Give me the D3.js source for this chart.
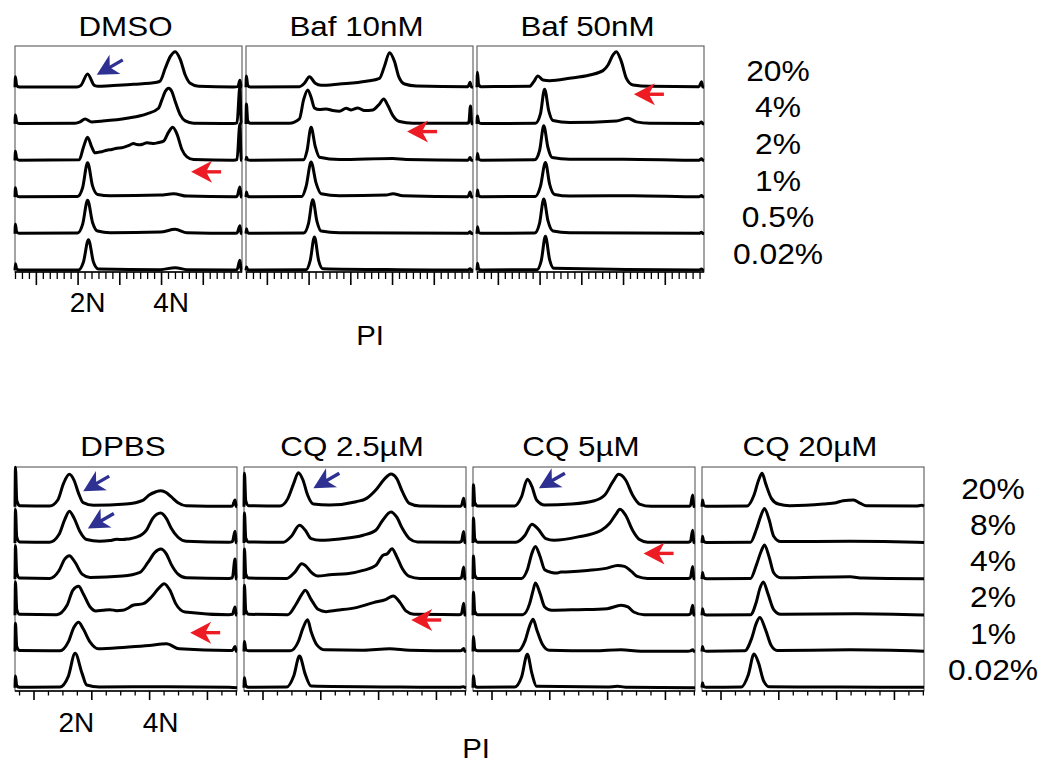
<!DOCTYPE html>
<html lang="en">
<head>
<meta charset="UTF-8">
<title>PI cell cycle histograms</title>
<script src="https://d3js.org/d3.v7.min.js"></script>
<style>
  body { margin: 0; background: #fff; }
  svg { display: block; font-family: "Liberation Sans", Arial, sans-serif; }
</style>
</head>
<body>
<svg width="1051" height="765"></svg>
<script>
// ---- data: each curve is a list of [PI, count] pairs, rows from top (highest dose) to bottom
const topPanels = ["DMSO", "Baf 10nM", "Baf 50nM"];
const topLevels = ["20%", "4%", "2%", "1%", "0.5%", "0.02%"];
const bottomPanels = ["DPBS", "CQ 2.5µM", "CQ 5µM", "CQ 20µM"];
const bottomLevels = ["20%", "8%", "4%", "2%", "1%", "0.02%"];

const topMajorTicks = [25, 75, 125, 175, 225];
const bottomMajorTicks = [16, 66, 116, 166];
const topPloidy = [["2N", 87], ["4N", 187]];
const bottomPloidy = [["2N", 53], ["4N", 126]];

const dmso = [
  [[0,0],[0.5,32],[2,5],[5,1],[74,1],[79,6],[87,40],[95,6],[100,3],[114,5],[142,9],[170,15],[174,19],[180,57],[186,92],[192,107],[198,84],[204,37],[210,12],[220,3],[262,1],[267,2],[269.5,21],[271,1],[272,0]],
  [[0,0],[0.5,27],[2,5],[5,1],[72,2],[78,6],[84,15],[92,6],[102,8],[134,17],[158,30],[172,47],[176,72],[180,97],[184,107],[188,97],[192,67],[198,27],[204,9],[214,2],[262,1],[266,3],[269.5,112],[271,1],[272,0]],
  [[0,0],[0.5,28],[2,5],[5,1],[77,2],[82,40],[87,70],[92,40],[96,23],[100,25],[104,26],[110,31],[116,33],[122,37],[128,38],[134,43],[138,47],[142,51],[146,48],[150,47],[154,50],[158,53],[162,52],[166,51],[172,54],[178,58],[184,85],[189,100],[194,80],[200,33],[206,11],[214,3],[262,1],[266,3],[269.5,110],[271,1],[272,0]],
  [[0,0],[0.5,28],[2,5],[5,1],[75,2],[81,28],[87,103],[93,33],[99,8],[114,4],[174,6],[190,10],[206,3],[262,1],[266,2],[269.5,30],[271,1],[272,0]],
  [[0,0],[0.5,28],[2,5],[5,1],[75,2],[81,28],[87,100],[93,33],[99,8],[114,3],[174,5],[192,13],[206,3],[262,1],[266,2],[269.5,24],[271,1],[272,0]],
  [[0,0],[0.5,20],[2,4],[5,1],[76,1],[82,25],[88,92],[94,25],[100,4],[174,2],[192,8],[206,2],[262,1],[266,2],[269.5,30],[271,1],[272,0]]
];
const baf10 = [
  [[0,0],[0.5,34],[2,6],[5,1],[64,2],[70,12],[76,32],[83,12],[90,6],[112,10],[144,18],[160,27],[166,64],[172,104],[178,77],[183,32],[190,10],[204,4],[266,2],[268.5,15],[270,1],[272,0]],
  [[0,0],[0.5,60],[2,10],[5,2],[52,2],[64,15],[69,72],[74,102],[78,80],[82,48],[88,43],[96,45],[104,40],[112,38],[120,47],[126,42],[134,48],[142,40],[152,42],[160,60],[165,75],[170,55],[176,25],[184,7],[200,2],[264,2],[267,4],[269,54],[270.5,1],[272,0]],
  [[0,0],[0.5,10],[2,2],[5,1],[69,2],[73,28],[78,100],[83,42],[88,10],[112,3],[176,6],[192,3],[266,1],[268.5,9],[270,1],[272,0]],
  [[0,0],[0.5,15],[2,3],[5,1],[67,2],[72,32],[78,105],[84,42],[90,10],[112,4],[168,6],[176,10],[188,4],[266,1],[268.5,15],[270,1],[272,0]],
  [[0,0],[0.5,15],[2,3],[5,1],[69,2],[75,32],[80,102],[85,37],[90,8],[112,3],[266,1],[268.5,6],[270,1],[272,0]],
  [[0,0],[0.5,10],[2,2],[5,1],[72,2],[77,30],[82,100],[87,30],[92,5],[184,2],[266,1],[268.5,5],[270,1],[272,0]]
];
const baf50 = [
  [[0,0],[0.5,45],[2,8],[5,2],[63,3],[68,17],[73,34],[79,22],[87,20],[111,27],[135,37],[151,50],[157,67],[163,97],[167,107],[173,77],[179,27],[187,7],[207,3],[266,2],[269,17],[270.5,1],[272,0]],
  [[0,0],[0.5,24],[2,5],[5,1],[70,2],[76,30],[81,104],[86,39],[91,10],[111,4],[167,9],[181,17],[191,6],[207,2],[266,1],[269,6],[270.5,1],[272,0]],
  [[0,0],[0.5,21],[2,4],[5,1],[69,2],[75,30],[80,104],[85,39],[90,9],[111,4],[176,4],[266,1],[269,5],[270.5,1],[272,0]],
  [[0,0],[0.5,21],[2,4],[5,1],[70,2],[76,32],[82,104],[87,39],[93,8],[111,3],[187,4],[266,1],[269,5],[270.5,1],[272,0]],
  [[0,0],[0.5,21],[2,4],[5,1],[69,2],[75,32],[80,104],[85,39],[91,8],[111,3],[266,1],[269,4],[270.5,1],[272,0]],
  [[0,0],[0.5,21],[2,4],[5,1],[72,2],[77,29],[82,102],[87,32],[92,6],[266,1],[269,4],[270.5,1],[272,0]]
];
const dpbs = [
  [[0,0],[0.4,118],[1.5,20],[4,3],[30,2],[37,20],[42,70],[47,97],[51,80],[55,40],[59,12],[68,4],[96,8],[111,20],[116,35],[122,45],[126,48],[131,42],[135,30],[141,12],[148,3],[185,1],[188,2],[190.3,20],[191.3,1],[192,0]],
  [[0,0],[0.4,100],[1.5,18],[4,3],[30,2],[38,25],[43,70],[47,95],[51,75],[56,35],[62,10],[73,5],[82,7],[88,11],[93,10],[98,12],[105,17],[114,40],[119,73],[126,90],[131,73],[135,45],[141,17],[148,5],[185,2],[188,4],[190.3,35],[191.3,1],[192,0]],
  [[0,0],[0.4,100],[1.5,18],[4,3],[30,2],[38,25],[43,60],[47,70],[52,50],[58,15],[65,5],[93,9],[108,20],[115,50],[121,80],[126,90],[131,75],[135,45],[141,15],[148,4],[185,2],[188,4],[190.3,60],[191.3,1],[192,0]],
  [[0,0],[0.4,100],[1.5,18],[4,3],[36,2],[45,30],[50,75],[55,87],[59,65],[65,25],[70,13],[76,15],[82,17],[88,14],[93,15],[98,22],[102,30],[111,35],[118,55],[124,80],[129,95],[134,75],[139,35],[147,10],[185,2],[188,3],[190.3,25],[191.3,1],[192,0]],
  [[0,0],[0.4,85],[1.5,15],[4,3],[39,2],[46,28],[51,73],[55,88],[59,68],[65,28],[72,8],[96,13],[116,18],[131,23],[142,8],[185,3],[188,3],[190.3,15],[191.3,1],[192,0]],
  [[0,0],[0.4,35],[1.5,6],[4,1],[39,2],[46,33],[52,103],[58,43],[62,8],[73,2],[131,3],[185,1],[192,0]]
];
const cq25 = [
  [[0,0],[0.4,100],[1.5,18],[4,3],[31,2],[38,25],[43,70],[47,102],[51,80],[55,35],[60,8],[74,5],[97,15],[106,25],[114,50],[122,85],[127,98],[132,85],[137,45],[143,10],[152,2],[186,1],[188,3],[190,25],[191,1],[192,0]],
  [[0,0],[0.4,90],[1.5,15],[4,3],[34,2],[41,20],[48,53],[53,38],[58,13],[66,8],[83,12],[103,23],[114,38],[120,68],[127,93],[132,78],[137,43],[143,13],[150,3],[186,2],[188,4],[190,34],[191,1],[192,0]],
  [[0,0],[0.4,90],[1.5,15],[4,3],[37,2],[44,21],[50,46],[53,41],[58,21],[64,9],[74,13],[89,16],[103,26],[114,41],[120,71],[124,76],[128,91],[132,68],[137,31],[143,8],[152,2],[186,2],[188,4],[190,36],[191,1],[192,0]],
  [[0,0],[0.4,90],[1.5,15],[4,3],[38,2],[45,33],[50,63],[53,75],[58,48],[64,18],[71,11],[80,15],[97,23],[112,38],[123,48],[129,58],[135,38],[140,13],[147,3],[186,2],[188,4],[190,36],[191,1],[192,0]],
  [[0,0],[0.4,30],[1.5,6],[4,2],[40,2],[47,30],[51,70],[55,95],[58,60],[63,20],[70,5],[103,4],[126,8],[143,4],[186,2],[188,3],[190,9],[191,1],[192,0]],
  [[0,0],[0.4,30],[1.5,6],[4,1],[37,2],[43,35],[48,95],[53,40],[58,5],[135,2],[186,1],[188,2],[190,3],[191,1],[192,0]]
];
const cq5 = [
  [[0,0],[0.4,66],[1.5,12],[4,2],[36,2],[42,30],[47,82],[51,60],[55,20],[62,5],[85,8],[105,18],[114,35],[121,75],[126,97],[132,80],[138,35],[144,8],[154,1],[186,1],[188,3],[190,35],[191,1],[192,0]],
  [[0,0],[0.4,75],[1.5,13],[4,2],[37,2],[45,23],[51,56],[56,43],[63,13],[70,8],[91,18],[111,38],[118,58],[124,88],[127,101],[132,83],[138,38],[144,10],[151,2],[186,2],[188,4],[190,38],[191,1],[192,0]],
  [[0,0],[0.4,69],[1.5,12],[4,2],[42,2],[47,28],[51,78],[54,98],[58,68],[62,28],[68,20],[72,18],[76,21],[84,22],[99,26],[116,33],[125,41],[131,38],[137,23],[142,8],[151,2],[186,2],[188,4],[190,38],[191,1],[192,0]],
  [[0,0],[0.4,69],[1.5,12],[4,2],[43,2],[49,35],[52,75],[54,97],[58,65],[62,25],[68,15],[91,17],[116,20],[128,30],[134,25],[139,10],[148,2],[186,2],[188,4],[190,30],[191,1],[192,0]],
  [[0,0],[0.4,45],[1.5,8],[4,2],[39,2],[45,32],[49,77],[52,97],[55,67],[60,22],[66,4],[105,2],[128,5],[145,1],[186,1],[188,2],[190,5],[191,1],[192,0]],
  [[0,0],[0.4,36],[1.5,6],[4,1],[36,2],[42,32],[47,100],[51,42],[55,4],[116,2],[125,4],[134,1],[192,0]]
];
const cq20 = [
  [[0,0],[0.4,20],[1.5,4],[4,1],[39,2],[45,35],[49,80],[52,100],[55,70],[60,25],[66,8],[76,3],[105,8],[116,12],[122,18],[131,20],[137,10],[142,3],[185,2],[190,4],[192,2]],
  [[0,0],[0.4,20],[1.5,4],[4,1],[42,2],[47,40],[51,82],[54,103],[58,70],[62,20],[68,4],[128,5],[186,2],[192,1]],
  [[0,0],[0.4,20],[1.5,4],[4,1],[42,2],[47,42],[51,82],[54,102],[58,67],[62,19],[68,4],[128,7],[139,3],[192,1]],
  [[0,0],[0.4,20],[1.5,4],[4,1],[42,2],[47,40],[50,80],[53,100],[57,65],[62,17],[68,3],[134,5],[192,1]],
  [[0,0],[0.4,15],[1.5,3],[4,1],[37,2],[43,40],[47,85],[50,102],[55,65],[60,17],[65,3],[128,5],[192,1]],
  [[0,0],[0.4,15],[1.5,3],[4,1],[34,2],[40,38],[45,101],[49,73],[53,23],[58,3],[119,2],[192,1]]
];

// arrows: panel, PI position of the tip, row level of the tip (0 = top baseline), colour, angle
const arrows = [
  ["DMSO", 98, -0.34, "blue", -30],
  ["DMSO", 211, 2.31, "red", 0],
  ["Baf 10nM", 193, 1.21, "red", 0],
  ["Baf 50nM", 188, 0.19, "red", 0],
  ["DPBS", 59, -0.43, "blue", -30],
  ["DPBS", 63, 0.60, "blue", -30],
  ["DPBS", 151.5, 3.48, "red", 0],
  ["CQ 2.5µM", 60, -0.51, "blue", -30],
  ["CQ 2.5µM", 144.6, 3.13, "red", 0],
  ["CQ 5µM", 57, -0.51, "blue", -30],
  ["CQ 5µM", 147.5, 1.29, "red", 0]
];
const arrowColor = { blue: "#2e3192", red: "#ed1c24" };

// ---- drawing
const svg = d3.select("svg");
svg.append("rect").attr("width", 1051).attr("height", 765).attr("fill", "#fff");

const blocks = [
  {
    names: topPanels, curves: [dmso, baf10, baf50], levels: topLevels,
    left: 15, step: 231, width: 227, top: 46, firstBase: 87.3, spacing: 36.6, axisY: 272,
    domain: [0, 272], majors: topMajorTicks, minorStep: 50 / 6, minorStart: 0,
    majorLen: 13, minorLen: 7, titleY: 36, labelX: 778, labelDy: -6.5,
    ploidy: topPloidy, ploidyY: 312, piX: 370, piY: 345
  },
  {
    names: bottomPanels, curves: [dpbs, cq25, cq5, cq20], levels: bottomLevels,
    left: 15, step: 229, width: 222, top: 467, firstBase: 506.7, spacing: 36.2, axisY: 691,
    domain: [0, 192], majors: bottomMajorTicks, minorStep: 12.5, minorStart: 3.5,
    majorLen: 9, minorLen: 4.5, titleY: 456, labelX: 993, labelDy: -8,
    ploidy: bottomPloidy, ploidyY: 732, piX: 476, piY: 758
  }
];

const h = d3.scaleLinear().domain([0, 120]).range([0, 40]);
const panelScales = {};

function label(x, y, text, size, sx) {
  svg.append("text")
    .attr("transform", `translate(${x},${y}) scale(${sx},1)`)
    .attr("text-anchor", "middle")
    .attr("font-size", size)
    .attr("fill", "#000")
    .text(text);
}

blocks.forEach(b => {
  const baseY = i => b.firstBase + i * b.spacing;
  const minors = d3.range(b.minorStart, b.domain[1], b.minorStep)
    .filter(v => !b.majors.some(m => Math.abs(m - v) < 0.5));

  b.names.forEach((name, p) => {
    const left = b.left + p * b.step;
    const x = d3.scaleLinear().domain(b.domain).range([left, left + b.width]);
    panelScales[name] = { x, b };
    const g = svg.append("g");

    g.append("rect")
      .attr("x", left).attr("y", b.top)
      .attr("width", b.width).attr("height", b.axisY - b.top)
      .attr("fill", "none").attr("stroke", "#5a5a5a").attr("stroke-width", 1.1);

    b.curves[p].forEach((pts, i) => {
      const line = d3.line()
        .x(d => x(d[0]))
        .y(d => baseY(i) - h(d[1]))
        .curve(d3.curveMonotoneX);
      g.append("path")
        .attr("d", line(pts))
        .attr("fill", "none")
        .attr("stroke", "#000")
        .attr("stroke-width", 3)
        .attr("stroke-linejoin", "round");
    });

    // axis
    g.append("line")
      .attr("x1", left).attr("x2", left + b.width)
      .attr("y1", b.axisY).attr("y2", b.axisY)
      .attr("stroke", "#000").attr("stroke-width", 1.4);
    g.append("g")
      .attr("transform", `translate(0,${b.axisY})`)
      .call(d3.axisBottom(x).tickValues(b.majors).tickSize(b.majorLen).tickFormat(""))
      .call(a => a.select(".domain").remove())
      .call(a => a.selectAll("line").attr("stroke-width", 1.6));
    g.append("g")
      .attr("transform", `translate(0,${b.axisY})`)
      .call(d3.axisBottom(x).tickValues(minors).tickSize(b.minorLen).tickFormat(""))
      .call(a => a.select(".domain").remove())
      .call(a => a.selectAll("line").attr("stroke-width", 1.3));

    label(left + b.width / 2 - 3, b.titleY, name, 28, 1.12);

    if (p === 0) {
      b.ploidy.forEach(([t, v]) => label(x(v), b.ploidyY, t, 28, 1));
    }
  });

  b.levels.forEach((t, i) => label(b.labelX, baseY(i) + b.labelDy, t, 30, 1.06));
  label(b.piX, b.piY, "PI", 28, 1.05);
});

// arrows
arrows.forEach(([panel, px, level, col, angle]) => {
  const { x, b } = panelScales[panel];
  const tx = x(px);
  const ty = b.firstBase + level * b.spacing;
  const a = svg.append("g")
    .attr("transform", `translate(${tx},${ty}) rotate(${angle})`);
  a.append("line")
    .attr("x1", 14).attr("x2", 30).attr("y1", 0).attr("y2", 0)
    .attr("stroke", arrowColor[col]).attr("stroke-width", 3.4);
  a.append("path")
    .attr("d", "M0,0 L21,-11 L15,0 L21,11 Z")
    .attr("fill", arrowColor[col]);
});
</script>
</body>
</html>
